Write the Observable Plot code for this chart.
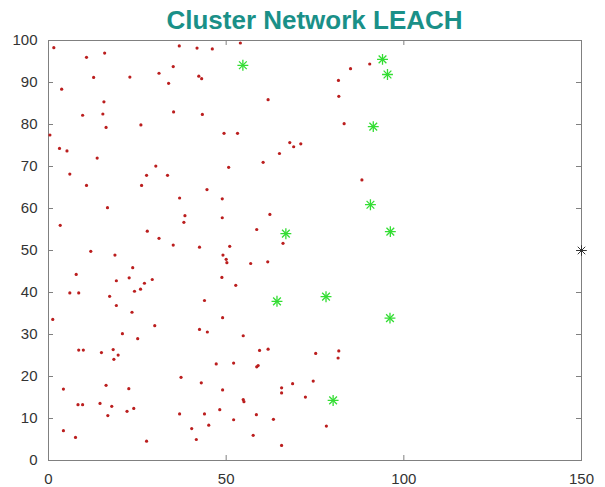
<!DOCTYPE html>
<html>
<head>
<meta charset="utf-8">
<script src="https://cdn.jsdelivr.net/npm/d3@7"></script>
<script src="https://cdn.jsdelivr.net/npm/@observablehq/plot@0.6"></script>
<style>
  html, body { margin: 0; padding: 0; background: #fff; }
  #wrap { position: relative; width: 605px; height: 487px; }
  #title {
    position: absolute; left: 0; top: 0;
    box-sizing: border-box; width: 605px; height: 34px;
    padding: 7px 24px 0 48px; text-align: center;
    font: bold 26px "Liberation Sans", Arial, sans-serif; line-height: 26px;
    color: #1a9088; white-space: nowrap; z-index: 2;
  }
  #chart svg { display: block; }
</style>
</head>
<body>
<div id="wrap">
<div id="chart"></div>
<div id="title">Cluster Network LEACH</div>
</div>
<script>
const titleText = "Cluster Network LEACH";
const xTicks = [0, 50, 100, 150];
const yTicks = [0, 10, 20, 30, 40, 50, 60, 70, 80, 90, 100];

// ordinary sensor nodes (red dots)
const nodeX = [1.5,36.8,10.7,15.8,3.7,12.7,22.9,31.1,35.1,33.8,15.6,9.6,15.3,16.2,35.2,26.0,0.4,3.1,5.2,13.7,6.0,30.2,27.6,33.5,10.7,26.2,
  41.8,46.1,54.0,42.3,43.1,81.6,81.7,61.8,43.3,49.4,53.2,67.9,69.0,71.0,65.0,60.4,50.7,85.0,90.4,83.2,88.2,
  16.6,3.3,36.9,38.4,38.1,27.8,31.1,35.1,11.9,18.7,23.7,7.8,22.7,19.1,29.2,27.0,6.0,8.5,24.2,25.9,17.2,19.1,23.5,1.2,29.9,
  44.6,48.9,48.9,62.3,58.6,66.0,42.5,51.0,49.1,50.0,50.2,56.9,61.7,48.8,52.7,43.9,49.0,
  20.8,25.1,8.5,9.8,14.9,18.2,18.4,19.6,4.2,16.2,22.6,37.3,8.3,9.6,14.5,17.8,16.7,22.1,24.0,36.9,4.2,7.6,27.6,
  42.5,44.7,54.8,59.4,61.8,75.2,81.7,81.5,47.2,52.1,59.0,58.6,43.0,49.0,65.6,65.6,68.7,74.5,72.3,54.8,55.0,
  43.9,48.2,58.5,63.3,52.1,45.1,40.3,78.2,41.6,57.6,65.6];
const nodeY = [98.3,98.7,96.0,97.0,88.4,91.2,91.3,92.2,93.8,89.8,85.4,82.2,82.5,79.3,83.0,79.9,77.5,74.3,73.7,72.0,68.2,70.1,67.9,67.9,65.5,65.5,
  98.2,98.0,99.4,91.5,90.9,90.5,86.7,85.9,82.4,77.9,77.9,75.7,74.7,75.4,73.1,71.0,69.8,93.3,94.4,80.2,66.8,
  60.2,56.0,62.5,58.3,56.7,54.6,52.9,51.3,49.8,48.9,45.9,44.3,43.5,42.8,43.1,42.2,39.9,39.9,40.3,40.8,39.1,36.9,35.3,33.6,32.1,
  64.5,62.3,57.8,58.6,55.0,51.7,50.8,51.0,48.9,47.9,47.1,46.9,47.3,43.6,41.7,38.1,34.0,
  30.2,29.0,26.3,26.3,25.7,26.4,24.1,25.1,17.0,17.9,17.1,19.8,13.3,13.3,13.6,12.9,10.7,11.7,12.4,11.1,7.1,5.5,4.6,
  31.2,30.6,29.7,26.2,26.5,25.5,26.1,24.4,23.0,23.2,22.6,22.3,18.5,16.8,17.3,16.1,18.3,18.9,15.1,14.5,14.0,
  11.1,12.1,10.9,9.8,9.7,8.4,7.6,8.2,5.0,6.0,3.6];

// cluster heads (green asterisks)
const headX = [54.7,94.0,95.4,91.4,90.6,66.8,96.2,64.3,78.1,96.1,80.1];
const headY = [94.1,95.5,91.9,79.5,60.9,54.0,54.5,37.9,39.0,33.9,14.3];

// base station (black asterisk)
const sinkX = [150];
const sinkY = [50];

const nodes = nodeX.map((x, i) => ({x, y: nodeY[i]}));
const heads = headX.map((x, i) => ({x, y: headY[i]}));
const sink = sinkX.map((x, i) => ({x, y: sinkY[i]}));

document.getElementById("title").textContent = titleText;

const W = 605, H = 487, mL = 48, mR = 24, mT = 40, mB = 27, tick = 5;
const frameW = W - mL - mR, frameH = H - mT - mB;
const gray = "#808080";
const plot = Plot.plot({
  width: W,
  height: H,
  marginLeft: mL,
  marginRight: mR,
  marginTop: mT,
  marginBottom: mB,
  style: {fontFamily: "'Liberation Sans', Arial, sans-serif", fontSize: "15px", color: "#333", background: "#fff", overflow: "visible"},
  x: {domain: [0, 150]},
  y: {domain: [0, 100]},
  marks: [
    Plot.axisX(xTicks, {anchor: "bottom", tickSize: 0, tickPadding: 13, fill: "#333", label: null}),
    Plot.axisY(yTicks, {anchor: "left", tickSize: 0, tickPadding: 11, fill: "#333", label: null}),
    // inward tick marks on all four sides
    Plot.ruleX(xTicks, {x: d => d, insetTop: frameH - tick, stroke: gray}),
    Plot.ruleX(xTicks, {x: d => d, insetBottom: frameH - tick, stroke: gray}),
    Plot.ruleY(yTicks, {y: d => d, insetRight: frameW - tick, stroke: gray}),
    Plot.ruleY(yTicks, {y: d => d, insetLeft: frameW - tick, stroke: gray}),
    Plot.frame({stroke: gray}),
    Plot.dot(nodes, {x: "x", y: "y", r: 1.6, fill: "#bb1e1e"}),
    Plot.dot(heads, {x: "x", y: "y", r: 3.6, symbol: "plus", stroke: "#33dd33", strokeWidth: 1.3}),
    Plot.dot(heads, {x: "x", y: "y", r: 3.6, symbol: "times", stroke: "#33dd33", strokeWidth: 1.3}),
    Plot.dot(sink, {x: "x", y: "y", r: 3.5, symbol: "plus", stroke: "#333", strokeWidth: 1}),
    Plot.dot(sink, {x: "x", y: "y", r: 3.5, symbol: "times", stroke: "#333", strokeWidth: 1})
  ]
});
document.getElementById("chart").appendChild(plot);
</script>
</body>
</html>
